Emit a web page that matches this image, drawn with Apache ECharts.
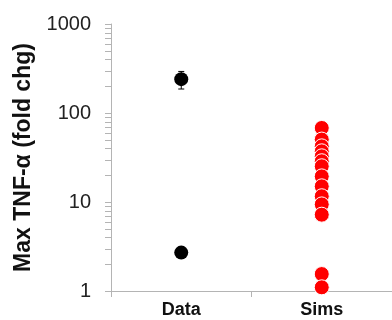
<!DOCTYPE html>
<html><head><meta charset="utf-8">
<script src="https://cdn.jsdelivr.net/npm/echarts@6/dist/echarts.min.js"></script>
<style>html,body{margin:0;padding:0;background:#fff}#c{width:392px;height:320px}</style>
</head><body><div id="c"></div>
<script>
const categories = ['Data', 'Sims'];
const dataValues = [240, 2.7];
const dataErrLow = [186, null];
const dataErrHigh = [293, null];
const simsValues = [67.9, 50.3, 42.2, 37.1, 32.6, 28.7, 25.2, 19.4, 15.0, 11.6, 9.4, 7.2, 1.55, 1.1];
const yTickLabels = ['1', '10', '100', '1000'];
const minorTickMultipliers = [2, 3, 4, 5, 6, 7, 8, 9];
const decades = [1, 10, 100];

const minorTickValues = [];
decades.forEach(d => minorTickMultipliers.forEach(m => minorTickValues.push([0, d * m])));

const chart = echarts.init(document.getElementById('c'), null, {renderer: 'canvas'});
const errData = [];
dataValues.forEach((v, i) => { if (dataErrLow[i] != null) errData.push([0, dataErrLow[i], dataErrHigh[i]]); });
const axisGray = '#b4b4b4';
chart.setOption({
  animation: false,
  grid: {left: 111, top: 24, width: 282, height: 267},
  xAxis: {
    type: 'category', data: categories, boundaryGap: true,
    axisLine: {lineStyle: {color: axisGray, width: 1}},
    axisTick: {show: true, length: 6, lineStyle: {color: axisGray}},
    axisLabel: {fontFamily: 'Liberation Sans, Arial', fontWeight: 'bold', fontSize: 18, color: '#111', margin: 10}
  },
  yAxis: {
    type: 'log', logBase: 10, min: 1, max: 1000,
    name: 'Max TNF-α (fold chg)', nameLocation: 'middle', nameGap: 75,
    nameTextStyle: {fontFamily: 'Liberation Sans, Arial', fontWeight: 'bold', fontSize: 23, color: '#111'},
    axisLine: {show: true, lineStyle: {color: axisGray, width: 1}},
    axisTick: {show: true, length: 6, lineStyle: {color: axisGray}},
    splitLine: {show: false},
    axisLabel: {fontFamily: 'Liberation Sans, Arial', fontSize: 20, color: '#222', margin: 20,
      formatter: v => { const i = Math.round(Math.log10(v)); return yTickLabels[i] !== undefined ? yTickLabels[i] : ''; }}
  },
  series: [
    {
      type: 'custom', z: 5, silent: true, clip: false,
      encode: {x: 0, y: 1},
      renderItem: function (params, api) {
        const p = api.coord([0, api.value(1)]);
        const x0 = params.coordSys.x;
        const yy = Math.round(p[1]) + 0.5;
        return {type: 'line', shape: {x1: x0 - 6, y1: yy, x2: x0, y2: yy},
          style: {stroke: axisGray, lineWidth: 1}};
      },
      data: minorTickValues
    },
    {
      type: 'custom', z: 1, encode: {x: 0, y: 1},
      renderItem: function (params, api) {
        const x = api.value(0);
        const lo = api.coord([x, api.value(1)]);
        const hi = api.coord([x, api.value(2)]);
        const w = 3;
        const st = {stroke: '#000', lineWidth: 1};
        return {type: 'group', children: [
          {type: 'line', shape: {x1: lo[0], y1: lo[1], x2: hi[0], y2: hi[1]}, style: st},
          {type: 'line', shape: {x1: lo[0]-w, y1: lo[1], x2: lo[0]+w, y2: lo[1]}, style: st},
          {type: 'line', shape: {x1: hi[0]-w, y1: hi[1], x2: hi[0]+w, y2: hi[1]}, style: st}
        ]};
      },
      data: errData
    },
    {
      type: 'scatter', z: 3, symbolSize: 14,
      itemStyle: {color: '#000', opacity: 1},
      data: dataValues.map(v => [0, v])
    },
    {
      type: 'scatter', z: 3, symbolSize: 15,
      itemStyle: {color: '#ff0000', borderColor: '#fff', borderWidth: 1, opacity: 1},
      data: simsValues.map(v => [1, v])
    }
  ]
});
</script></body></html>
